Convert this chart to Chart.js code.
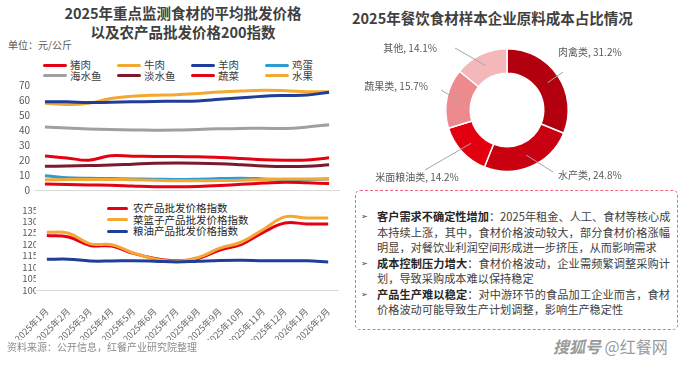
<!DOCTYPE html>
<html><head><meta charset="utf-8">
<script src="https://cdn.jsdelivr.net/npm/chart.js@4.4.1/dist/chart.umd.min.js"></script>
<style>
body{margin:0;width:690px;height:365px;overflow:hidden;background:#fff;font-family:"Noto Sans CJK SC","Noto Sans",sans-serif;position:relative;color:#404040;}
.abs{position:absolute;white-space:nowrap;}
canvas{position:absolute;}
.title{font-weight:bold;font-size:14.5px;color:#404040;line-height:19px;}
.lg{position:absolute;height:3px;border-radius:1.5px;}
.lt{position:absolute;font-size:10.5px;line-height:12px;color:#404040;white-space:nowrap;}
.box{position:absolute;left:355px;top:190px;width:321px;height:138px;border:1.5px dashed #EE6A83;border-radius:5px;}
.ln{position:absolute;left:377px;width:293px;font-size:11.2px;line-height:15.5px;height:15.5px;color:#404040;white-space:nowrap;}
.full{text-align:justify;text-align-last:justify;}
.bul{position:absolute;left:361px;font-family:"DejaVu Sans";font-size:8px;color:#404040;line-height:15.5px;}
b{color:#262626;}
</style></head><body>

<div class="abs title" style="left:0;top:3px;width:366px;text-align:center;">2025年重点监测食材的平均批发价格<br>以及农产品批发价格200指数</div>
<div class="abs" style="left:8px;top:37px;font-size:10px;color:#595959;">单位：元/公斤</div>
<div class="abs title" style="left:352px;top:8px;">2025年餐饮食材样本企业原料成本占比情况</div>

<div id="lg1"></div>
<div id="lg2"></div>

<canvas id="c1" width="345" height="125" style="left:0;top:75px;"></canvas>
<canvas id="c2" width="345" height="140" style="left:0;top:200px;"></canvas>
<canvas id="c3" width="345" height="160" style="left:345px;top:30px;"></canvas>

<div class="abs" style="left:7px;top:339px;font-size:10px;color:#8c8c8c;">资料来源：公开信息，红餐产业研究院整理</div>

<div class="box"></div>
<div id="txt"></div>

<div class="abs" style="left:553px;top:334px;font-size:16px;color:#9a9a9a;"><i style="font-weight:bold;">搜狐号</i> @红餐网</div>

<script>
// ---- data ----
const months = ['2025年1月','2025年2月','2025年3月','2025年4月','2025年5月','2025年6月','2025年7月','2025年8月','2025年9月','2025年10月','2025年11月','2025年12月','2026年1月','2026年2月'];

const priceNames = ['猪肉','牛肉','羊肉','鸡蛋','海水鱼','淡水鱼','蔬菜','水果'];
const pork      = [22.7, 21.4, 19.8, 22.8, 22.5, 22.4, 22.3, 22.1, 21.7, 21.0, 20.2, 19.9, 20.0, 21.5];
const beef      = [57.8, 57.0, 57.8, 61.0, 62.5, 63.2, 63.5, 64.3, 65.3, 66.0, 66.5, 66.2, 65.5, 65.5];
const mutton    = [58.8, 58.8, 58.3, 58.5, 58.8, 59.0, 59.2, 59.4, 60.5, 61.5, 62.5, 63.0, 63.3, 65.2];
const eggs      = [9.5, 8.2, 7.8, 7.6, 7.4, 7.2, 7.0, 7.2, 7.6, 7.9, 7.4, 6.8, 7.0, 7.3];
const seaFish   = [42.0, 41.3, 40.7, 40.3, 40.0, 39.9, 40.0, 40.4, 40.8, 41.0, 41.2, 41.0, 42.0, 43.5];
const freshFish = [15.8, 16.0, 16.3, 16.6, 17.2, 17.8, 18.0, 17.9, 17.5, 16.8, 16.0, 15.6, 15.8, 16.8];
const vegetables= [4.0, 3.7, 3.4, 3.2, 2.7, 2.2, 2.1, 2.4, 3.0, 3.8, 4.6, 5.2, 4.8, 4.3];
const fruit     = [6.8, 7.0, 7.0, 7.0, 6.8, 6.5, 6.2, 6.2, 6.3, 6.5, 7.0, 7.3, 7.4, 7.4];
const priceTicks = [0, 10, 20, 30, 40, 50, 60, 70];

const indexNames = ['农产品批发价格指数','菜篮子产品批发价格指数','粮油产品批发价格指数'];
const agriIndex   = [123.8, 123.2, 119.5, 119.2, 116.0, 113.8, 112.8, 113.8, 117.5, 120.0, 125.2, 129.3, 128.9, 128.9];
const basketIndex = [125.3, 124.8, 120.2, 119.8, 116.2, 113.6, 112.6, 114.2, 118.3, 121.0, 126.5, 132.0, 131.5, 131.5];
const grainIndex  = [113.4, 113.5, 112.7, 112.7, 112.8, 112.6, 112.3, 112.6, 112.9, 113.0, 112.8, 112.8, 112.8, 112.3];
const indexTicks = [100, 105, 110, 115, 120, 125, 130, 135];

const costCats   = ['肉禽类','水产类','米面粮油类','蔬果类','其他'];
const costShares = [31.2, 24.8, 14.2, 15.7, 14.1];

// ---- styles ----
const RED='#E60012', ORANGE='#F3A833', NAVY='#1F3D99', SKY='#2E9BD3', GREY='#A0A0A0', MAROON='#7A1A2C';
const priceColors = [RED, ORANGE, NAVY, SKY, GREY, MAROON, RED, ORANGE];
const priceData = [pork, beef, mutton, eggs, seaFish, freshFish, vegetables, fruit];
const indexColors = [RED, ORANGE, NAVY];
const indexData = [agriIndex, basketIndex, grainIndex];
const costColors = ['#B3000E','#C8000F','#E2000F','#EC8A8E','#F4B8BB'];

// HTML legends
(function(){
  let h='';
  priceNames.forEach((n,i)=>{
    const col=i%4,row=Math.floor(i/4);
    const x=43+col*74, y=65+row*10.5;
    h+=`<div class="lg" style="left:${x}px;top:${y-1.5}px;width:24px;background:${priceColors[i]}"></div>`;
    h+=`<div class="lt" style="left:${x+27}px;top:${y-6}px">${n}</div>`;
  });
  document.getElementById('lg1').innerHTML=h;
  let g='';
  indexNames.forEach((n,i)=>{
    const y=208+i*11.5;
    g+=`<div class="lg" style="left:107px;top:${y-1.5}px;width:21px;background:${indexColors[i]}"></div>`;
    g+=`<div class="lt" style="left:133px;top:${y-6}px;color:#262626">${n}</div>`;
  });
  document.getElementById('lg2').innerHTML=g;
})();

// text box
(function(){
  const lines=[
    ['<b>客户需求不确定性增加</b>：2025年租金、人工、食材等核心成',1,1],
    ['本持续上涨，其中，食材价格波动较大，部分食材价格涨幅',1,0],
    ['明显，对餐饮业利润空间形成进一步挤压，从而影响需求',0,0],
    ['<b>成本控制压力增大</b>：食材价格波动，企业需频繁调整采购计',1,1],
    ['划，导致采购成本难以保持稳定',0,0],
    ['<b>产品生产难以稳定</b>：对中游环节的食品加工企业而言，食材',1,1],
    ['价格波动可能导致生产计划调整，影响生产稳定性',0,0]
  ];
  let h='';
  lines.forEach((l,i)=>{
    const top=209+i*15.5;
    if(l[2]) h+=`<div class="bul" style="top:${top}px">➢</div>`;
    h+=`<div class="ln ${l[1]?'full':''}" style="top:${top}px">${l[0]}</div>`;
  });
  document.getElementById('txt').innerHTML=h;
})();

const tickFont={family:'"Noto Sans CJK SC","Noto Sans",sans-serif',size:10};
const tickFontSm={family:'"Noto Sans CJK SC","Noto Sans",sans-serif',size:9.5};

// top chart
new Chart(document.getElementById('c1'),{
  type:'line',
  data:{labels:months,datasets:priceNames.map((n,i)=>({label:n,data:priceData[i],borderColor:priceColors[i],backgroundColor:priceColors[i],borderWidth:3,pointRadius:0,tension:0.4,order:priceNames.length-i}))},
  options:{responsive:false,animation:false,devicePixelRatio:1,
    layout:{padding:{top:10,bottom:5,right:5,left:0}},
    plugins:{legend:{display:false},tooltip:{enabled:false}},
    scales:{
      x:{display:false,offset:true},
      y:{min:priceTicks[0],max:priceTicks[priceTicks.length-1],
         afterBuildTicks:s=>{s.ticks=priceTicks.map(v=>({value:v}));},
         ticks:{padding:4,color:'#595959',font:tickFont,autoSkip:false},
         grid:{color:c=>c.tick&&c.tick.value===0?'#D9D9D9':'rgba(0,0,0,0)',drawTicks:false,lineWidth:1},
         border:{display:false},
         afterFit:s=>{s.width=34;}}
    }}
});

// bottom chart
new Chart(document.getElementById('c2'),{
  type:'line',
  data:{labels:months,datasets:indexNames.map((n,i)=>({label:n,data:indexData[i],borderColor:indexColors[i],backgroundColor:indexColors[i],borderWidth:3,pointRadius:0,tension:0.4,order:indexNames.length-i}))},
  options:{responsive:false,animation:false,devicePixelRatio:1,
    layout:{padding:{top:10,bottom:0,right:6,left:0}},
    plugins:{legend:{display:false},tooltip:{enabled:false}},
    scales:{
      x:{offset:true,grid:{display:false},border:{display:false},
         ticks:{minRotation:45,maxRotation:45,autoSkip:false,color:'#666666',font:{family:tickFont.family,size:9},padding:8},
         afterFit:s=>{s.height=50;}},
      y:{min:indexTicks[0],max:indexTicks[indexTicks.length-1],
         afterBuildTicks:s=>{s.ticks=indexTicks.map(v=>({value:v}));},
         ticks:{padding:-2,color:'#595959',font:tickFontSm,autoSkip:false},
         grid:{color:c=>c.tick&&c.tick.value===100?'#D9D9D9':'rgba(0,0,0,0)',drawTicks:false,lineWidth:1},
         border:{display:false},
         afterFit:s=>{s.width=36;}}
    }}
});

// doughnut labels (offsets relative to doughnut centre)
const labelGeom=[
  {tx:51,ty:-58,lx:56,ly:-38,align:'left'},
  {tx:51,ty:65,lx:46,ly:62,align:'left'},
  {tx:-90,ty:67,lx:-82,ly:60,align:'center'},
  {tx:-79,ty:-24,lx:-66,ly:-20,align:'right'},
  {tx:-70,ty:-62,lx:-52,ly:-62,align:'right'}
];
const donutLabels={id:'donutLabels',afterDraw(chart){
  const ctx=chart.ctx; const meta=chart.getDatasetMeta(0);
  ctx.save();
  meta.data.forEach((arc,i)=>{
    const p=arc.getProps(['x','y','startAngle','endAngle','innerRadius','outerRadius'],true);
    const mid=(p.startAngle+p.endAngle)/2, r=(p.innerRadius+p.outerRadius)/2;
    const sx=p.x+Math.cos(mid)*r, sy=p.y+Math.sin(mid)*r;
    const g=labelGeom[i];
    ctx.strokeStyle='#A6A6A6';ctx.lineWidth=1;
    ctx.beginPath();ctx.moveTo(sx,sy);ctx.lineTo(p.x+g.lx,p.y+g.ly);ctx.stroke();
    ctx.fillStyle='#595959';ctx.font='10px "Noto Sans CJK SC","Noto Sans",sans-serif';
    ctx.textAlign=g.align;ctx.textBaseline='middle';
    ctx.fillText(costCats[i]+', '+costShares[i]+'%',p.x+g.tx,p.y+g.ty);
  });
  ctx.restore();
}};

new Chart(document.getElementById('c3'),{
  type:'doughnut',
  data:{labels:costCats,datasets:[{data:costShares,backgroundColor:costColors,borderColor:'#ffffff',borderWidth:1.5}]},
  options:{responsive:false,animation:false,devicePixelRatio:1,cutout:'60%',
    layout:{padding:{top:18,bottom:18,left:0,right:21}},
    plugins:{legend:{display:false},tooltip:{enabled:false}}},
  plugins:[donutLabels]
});
</script>
</body></html>
